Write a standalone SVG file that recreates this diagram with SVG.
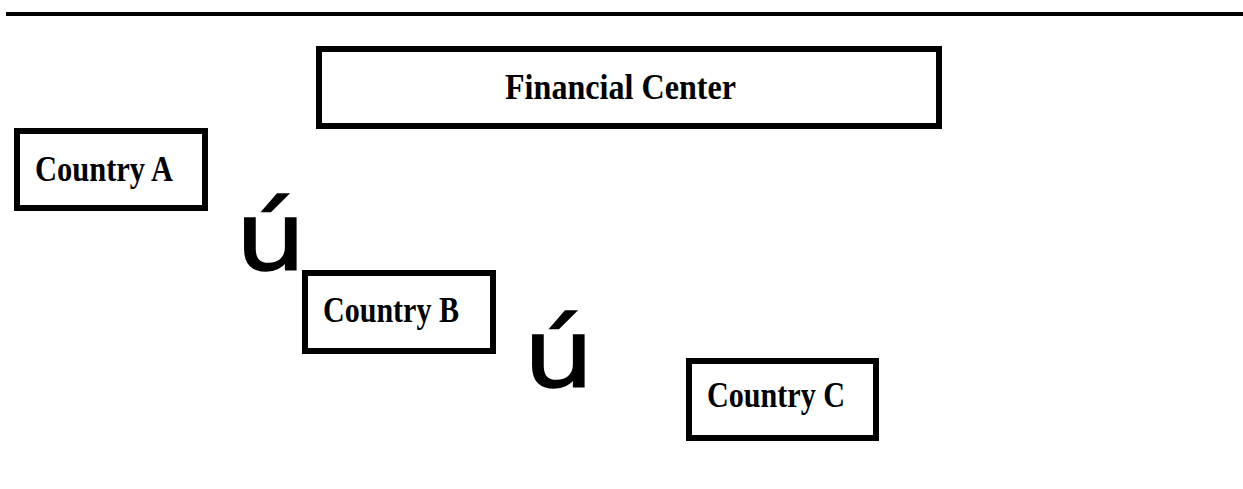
<svg xmlns="http://www.w3.org/2000/svg" width="1243" height="489" viewBox="0 0 1243 489">
<style>
.box{fill:#fff;stroke:#000;stroke-width:6}
.lbl{font-family:"Liberation Serif","Times New Roman",serif;font-weight:bold;font-size:35px;fill:#000}
.sym{font-family:"DejaVu Sans",sans-serif;font-size:94px;fill:#000;stroke:#000;stroke-width:1.5}
</style>
<rect x="6" y="12" width="1237" height="4" fill="#000"/>
<g id="financial-center">
<rect class="box" x="319" y="49" width="620" height="77"/>
<text class="lbl" x="505" y="99" font-size="39" textLength="231" lengthAdjust="spacingAndGlyphs">Financial Center</text>
</g>
<g id="country-a">
<rect class="box" x="17" y="131" width="188" height="77"/>
<text class="lbl" x="35" y="181" textLength="138" lengthAdjust="spacingAndGlyphs">Country A</text>
</g>
<g id="country-b">
<rect class="box" x="305" y="273" width="188" height="78"/>
<text class="lbl" x="323" y="322" textLength="136" lengthAdjust="spacingAndGlyphs">Country B</text>
</g>
<g id="country-c">
<rect class="box" x="689" y="361" width="187" height="77"/>
<text class="lbl" x="707" y="407" textLength="138" lengthAdjust="spacingAndGlyphs">Country C</text>
</g>
<g id="connectors">
<text class="sym" transform="translate(235.6 270) scale(1.18 1)">ú</text>
<text class="sym" transform="translate(523.6 387) scale(1.18 1)">ú</text>
</g>
</svg>
